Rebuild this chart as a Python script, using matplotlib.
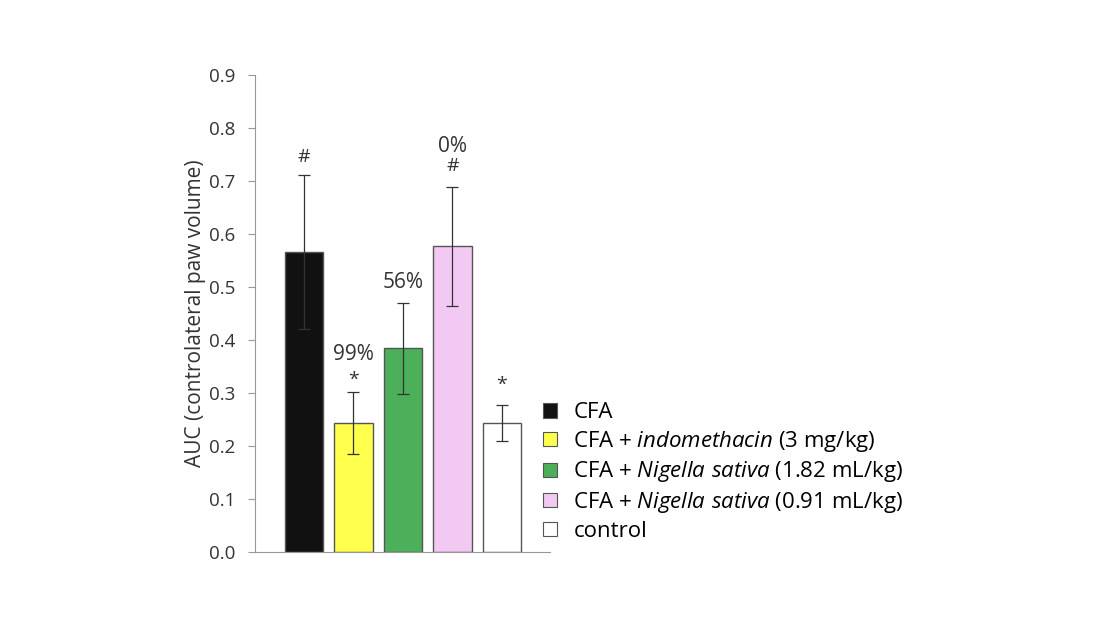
import numpy as np
import matplotlib.pyplot as plt
from matplotlib.patches import Patch

plt.rcParams['font.family'] = ['Open Sans', 'DejaVu Sans']
plt.rcParams['mathtext.fontset'] = 'custom'
plt.rcParams['mathtext.it'] = 'Open Sans:italic'
plt.rcParams['mathtext.rm'] = 'Open Sans'

# data
groups = ['CFA',
          r'CFA + $\it{indomethacin}$ (3 mg/kg)',
          r'CFA + $\it{Nigella\ sativa}$ (1.82 mL/kg)',
          r'CFA + $\it{Nigella\ sativa}$ (0.91 mL/kg)',
          'control']
auc = [0.566, 0.243, 0.384, 0.577, 0.243]
sem = [0.145, 0.058, 0.085, 0.112, 0.034]
colors = ['#111111', '#ffff4d', '#4caf5a', '#f2c9f2', '#ffffff']
pct_labels = ['', '99%', '56%', '0%', '']
sig_labels = ['#', '*', '', '#', '*']

fig = plt.figure(figsize=(11.1, 6.22), dpi=100)
ax = fig.add_axes([0.2297, 0.1125, 0.2658, 0.767])

x = np.arange(len(auc))
bars = ax.bar(x, auc, width=0.77, color=colors, edgecolor='#555555', linewidth=1.0)
ax.errorbar(x, auc, yerr=sem, fmt='none', ecolor='#333333', elinewidth=0.9, capsize=4, capthick=0.9)

# annotations above the error bars (offsets in points)
sig_off = [13, 9, 0, 15, 15]
pct_off = [0, 27, 15, 29, 0]
for xi, y, e, s, p, so, po in zip(x, auc, sem, sig_labels, pct_labels, sig_off, pct_off):
    top = y + e
    if s:
        ax.annotate(s, (xi, top), xytext=(0, so), textcoords='offset points',
                    ha='center', va='center', fontsize=14, color='#333333')
    if p:
        ax.annotate(p, (xi, top), xytext=(0, po), textcoords='offset points',
                    ha='center', va='center', fontsize=15, color='#333333')

ax.set_xlim(-0.99, 4.97)
ax.set_ylim(0, 0.9)
ax.set_yticks(np.arange(0, 0.91, 0.1))
ax.set_yticklabels([f'{v:.1f}' for v in np.arange(0, 0.91, 0.1)])
ax.set_xticks([])
for side in ['top', 'right']:
    ax.spines[side].set_visible(False)
for side in ['left', 'bottom']:
    ax.spines[side].set_color('#999999')
ax.tick_params(axis='y', colors='#999999', labelcolor='#333333', labelsize=13.5, length=5, pad=9)
ax.set_ylabel('AUC (controlateral paw volume)', fontsize=15, color='#333333', labelpad=2)

handles = [Patch(facecolor=c, edgecolor='#555555', linewidth=0.8) for c in colors]
fig.legend(handles, groups, loc='upper left', bbox_to_anchor=(0.4795, 0.371),
           frameon=False, fontsize=16, handlelength=0.6, handleheight=0.6,
           handletextpad=0.75, labelspacing=0.25, borderpad=0)

fig.savefig('out.png', dpi=100, facecolor='white')
